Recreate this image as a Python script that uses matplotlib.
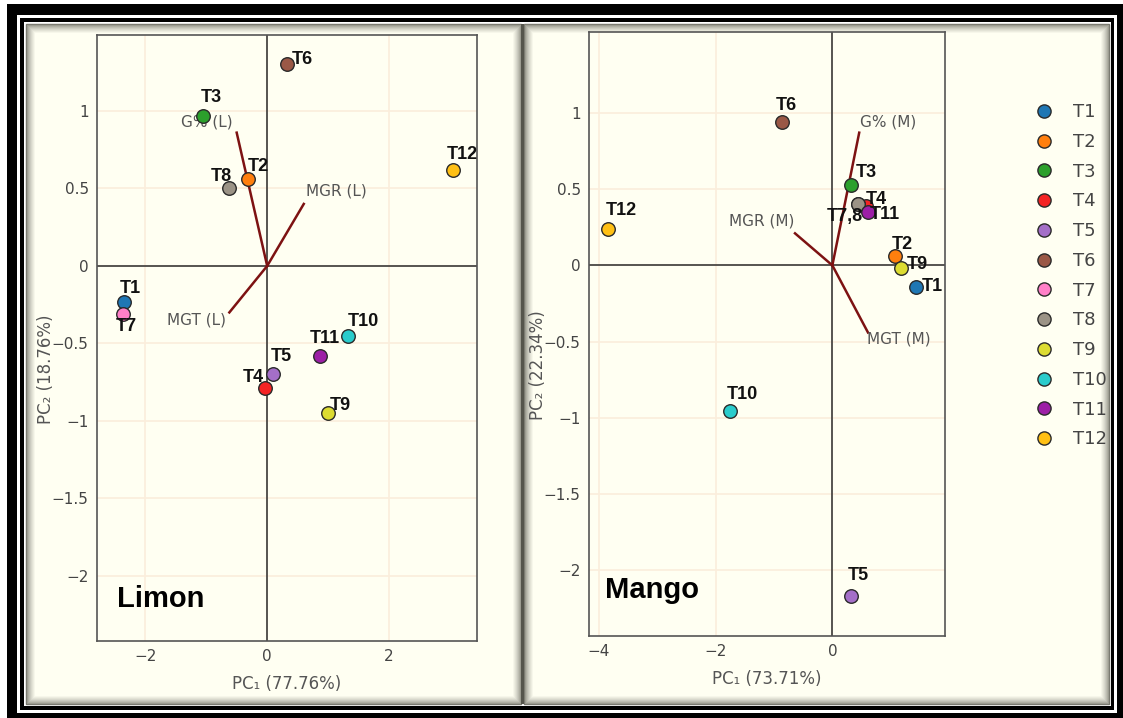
import numpy as np
import matplotlib
matplotlib.use("Agg")
import matplotlib.pyplot as plt
from matplotlib.patches import Rectangle
from matplotlib.lines import Line2D

# tratamientos y colores
treatments = ["T1", "T2", "T3", "T4", "T5", "T6", "T7", "T8", "T9", "T10", "T11", "T12"]
colors = ["#1f77b4", "#ff7f0e", "#2ca02c", "#f42424", "#a46fc8", "#9a5846",
          "#ff80c8", "#9b9386", "#dcdc32", "#2acccc", "#9c1fa6", "#ffc014"]

# scores PCA - limon
limon_pc1 = [-2.35, -0.32, -1.05, -0.04, 0.09, 0.33, -2.37, -0.62, 1.00, 1.33, 0.87, 3.04]
limon_pc2 = [-0.23, 0.56, 0.97, -0.79, -0.70, 1.30, -0.31, 0.50, -0.95, -0.45, -0.58, 0.62]

# scores PCA - mango
mango_pc1 = [1.43, 1.07, 0.32, 0.57, 0.32, -0.86, 0.44, 0.44, 1.17, -1.75, 0.61, -3.84]
mango_pc2 = [-0.14, 0.06, 0.53, 0.39, -2.17, 0.94, 0.40, 0.40, -0.02, -0.955, 0.35, 0.24]

# cargas (vectores)
limon_vars = ["G% (L)", "MGR (L)", "MGT (L)"]
limon_load1 = [-0.50, 0.60, -0.62]
limon_load2 = [0.86, 0.40, -0.30]
mango_vars = ["G% (M)", "MGR (M)", "MGT (M)"]
mango_load1 = [0.46, -0.64, 0.61]
mango_load2 = [0.87, 0.21, -0.44]

# etiquetas de puntos (en mango T7 queda debajo de T8)
limon_labels = treatments
mango_labels = ["T1", "T2", "T3", "T4", "T5", "T6", "", "T7,8", "T9", "T10", "T11", "T12"]

# desplazamientos de etiquetas en pixeles
limon_off = [(6, 13), (11, 13), (8, 18), (-11, 11), (9, 18), (15, 5),
             (4, -13), (-8, 12), (12, 8), (15, 14), (5, 17), (10, 15)]
mango_off = [(16, 0), (8, 12), (15, 12), (11, 6), (7, 21), (4, 16),
             (0, 0), (-13, -12), (17, 4), (12, 17), (17, -3), (13, 18)]
# posicion de texto de las cargas (pixeles respecto al extremo)
limon_voff = [(-30, 11), (33, 13), (-33, -8)]
mango_voff = [(29, 11), (-33, 12), (31, -7)]

W, H = 1123, 718
cream = "#fffff2"
fig = plt.figure(figsize=(W / 100, H / 100), dpi=100)
fig.patch.set_facecolor("white")


def px_rect(x0, y0, x1, y1, **kw):
    r = Rectangle((x0 / W, 1 - y1 / H), (x1 - x0) / W, (y1 - y0) / H,
                  transform=fig.transFigure, **kw)
    fig.add_artist(r)
    return r


# marco negro / blanco
px_rect(7, 4, W, H, facecolor="black", edgecolor="none", zorder=-10)
px_rect(17, 15, 1117, 713, facecolor="white", edgecolor="none", zorder=-9)
px_rect(20, 18, 1114, 710, facecolor="black", edgecolor="none", zorder=-8)
px_rect(24, 22, 1111, 706, facecolor="white", edgecolor="none", zorder=-7)

# paneles con bisel
g0 = np.array(matplotlib.colors.to_rgb("#74746a"))
g1 = np.array(matplotlib.colors.to_rgb(cream))
for (a, b) in [(26, 521), (524, 1109)]:
    px_rect(a, 24, b, 704, facecolor=cream, edgecolor="none", zorder=-6)
    for k in range(10):
        t = (k / 9) ** 0.6
        c = g0 * (1 - t) + g1 * t
        px_rect(a + k, 24 + k, b - k, 704 - k, facecolor="none", edgecolor=c,
                lw=1.0, zorder=-5)
px_rect(520.5, 24, 524, 704, facecolor="#55554c", edgecolor="none", zorder=-4)

ax1 = fig.add_axes([97 / W, 1 - 641 / H, 380 / W, 606 / H])
ax2 = fig.add_axes([589 / W, 1 - 636 / H, 356 / W, 604 / H])

lab_font = dict(family=["Liberation Sans Narrow", "Liberation Sans", "DejaVu Sans"],
                fontweight="bold", fontsize=13, color="#111111")


def draw_panel(ax, pc1, pc2, labels, offs, vars_, l1, l2, voffs, xlim, ylim,
               xticks, xlab, ylab, name, name_pos):
    ax.set_facecolor(cream)
    ax.set_xlim(*xlim)
    ax.set_ylim(*ylim)
    ax.set_xticks(xticks)
    ax.set_yticks([-2, -1.5, -1, -0.5, 0, 0.5, 1])
    ax.set_yticklabels(["−2", "−1.5", "−1", "−0.5", "0", "0.5", "1"])
    ax.grid(True, color="#fbeedc", lw=1.2)
    ax.axhline(0, color="#2a2a2a", lw=1.1, zorder=1.8)
    ax.axvline(0, color="#2a2a2a", lw=1.1, zorder=1.8)
    for s in ax.spines.values():
        s.set_color("#555555")
        s.set_linewidth(1.2)
    ax.tick_params(length=0, labelsize=11, labelcolor="#444444", pad=6)
    ax.set_xlabel(xlab, fontsize=12, color="#555555", labelpad=8)
    ax.set_ylabel(ylab, fontsize=12, color="#555555")

    # vectores de carga
    for v, x, y, o in zip(vars_, l1, l2, voffs):
        ax.plot([0, x], [0, y], color="#7d1212", lw=1.8, zorder=2)
        ax.annotate(v, (x, y), xytext=o, textcoords="offset pixels",
                    ha="center", va="center", fontsize=11, color="#555555", zorder=3)

    # scores
    for i in range(len(pc1)):
        ax.scatter(pc1[i], pc2[i], s=95, color=colors[i], edgecolor="#2a2a2a",
                   lw=1.0, zorder=4)
        if labels[i]:
            ax.annotate(labels[i], (pc1[i], pc2[i]), xytext=offs[i],
                        textcoords="offset pixels", ha="center", va="center",
                        zorder=5, **lab_font)

    ax.text(name_pos[0], name_pos[1], name, transform=ax.transAxes,
            fontsize=21, fontweight="bold", family="Liberation Sans",
            color="black", va="baseline", ha="left")


draw_panel(ax1, limon_pc1, limon_pc2, limon_labels, limon_off, limon_vars,
           limon_load1, limon_load2, limon_voff, (-2.79, 3.44), (-2.42, 1.49),
           [-2, 0, 2], "PC₁ (77.76%)", "PC₂ (18.76%)", "Limon", (0.053, 0.056))
draw_panel(ax2, mango_pc1, mango_pc2, mango_labels, mango_off, mango_vars,
           mango_load1, mango_load2, mango_voff, (-4.17, 1.93), (-2.43, 1.53),
           [-4, -2, 0], "PC₁ (73.71%)", "PC₂ (22.34%)", "Mango", (0.045, 0.063))
ax1.set_xticklabels(["−2", "0", "2"])
ax2.set_xticklabels(["−4", "−2", "0"])
ax1.yaxis.set_label_coords(-0.11, 0.449)
ax2.yaxis.set_label_coords(-0.118, 0.449)

# leyenda
handles = [Line2D([], [], marker="o", ls="none", markersize=9.5,
                  markerfacecolor=c, markeredgecolor="#2a2a2a", markeredgewidth=1.0)
           for c in colors]
fig.legend(handles, treatments, loc="upper left",
           bbox_to_anchor=(1026 / W, 1 - 96 / H), frameon=False, fontsize=13,
           labelcolor="#444444", labelspacing=0.65, handletextpad=1.0,
           handlelength=1.2, borderaxespad=0)

fig.savefig("out.png", dpi=100, facecolor="white")
